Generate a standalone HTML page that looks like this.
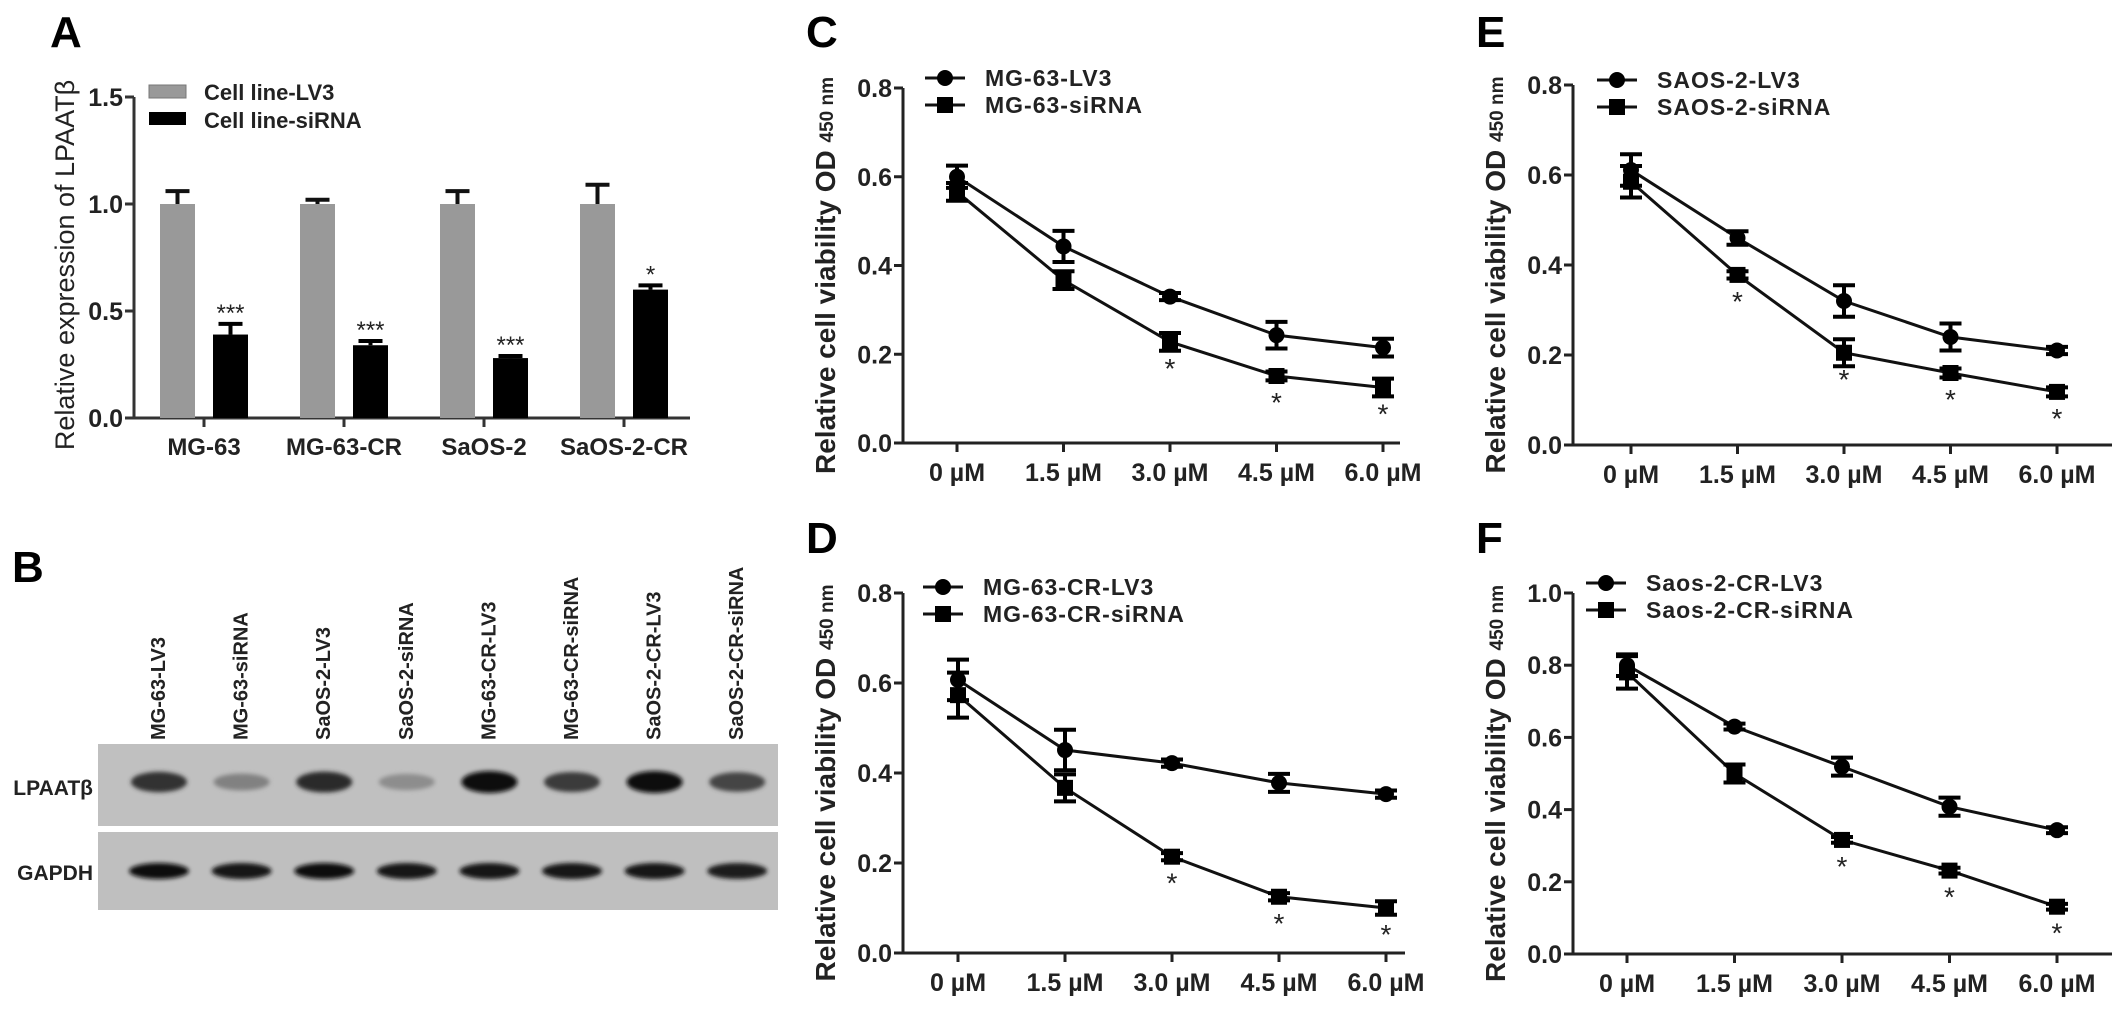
<!DOCTYPE html>
<html><head><meta charset="utf-8"><style>
html,body{margin:0;padding:0;background:#fff;}
svg{display:block;font-family:"Liberation Sans",Arial,sans-serif;}
.b{font-weight:bold;}
</style></head><body>
<svg id="fig" width="2126" height="1009" viewBox="0 0 2126 1009" xmlns="http://www.w3.org/2000/svg">
<defs>
<filter id="blur" x="-30%" y="-80%" width="160%" height="260%"><feGaussianBlur stdDeviation="2.2"/></filter>
</defs>
<g id="panelA"></g>
<g id="panelB"></g>
<g id="panelC"></g>
<g id="panelD"></g>
<g id="panelE"></g>
<g id="panelF"></g>
</svg>
<script>
// ---------- Panel A data ----------
const barCategories = ["MG-63", "MG-63-CR", "SaOS-2", "SaOS-2-CR"];
const barLV3 = [1.0, 1.0, 1.0, 1.0];
const barLV3Err = [0.06, 0.02, 0.06, 0.09];
const barSi = [0.39, 0.34, 0.28, 0.60];
const barSiErr = [0.05, 0.02, 0.01, 0.02];
const barSig = ["***", "***", "***", "*"];
const barTicks = [0.0, 0.5, 1.0, 1.5];

// ---------- Line chart data ----------
const doseLabels = ["0 µM", "1.5 µM", "3.0 µM", "4.5 µM", "6.0 µM"];
const cLV3 = [0.60, 0.443, 0.33, 0.243, 0.215];
const cLV3Err = [0.025, 0.035, 0.008, 0.03, 0.02];
const cSi = [0.566, 0.367, 0.228, 0.151, 0.125];
const cSiErr = [0.02, 0.02, 0.02, 0.01, 0.02];
const cSig = ["", "", "*", "*", "*"];
const dLV3 = [0.607, 0.451, 0.422, 0.378, 0.353];
const dLV3Err = [0.045, 0.045, 0.008, 0.02, 0.008];
const dSi = [0.573, 0.367, 0.214, 0.125, 0.10];
const dSiErr = [0.05, 0.03, 0.008, 0.008, 0.015];
const dSig = ["", "", "*", "*", "*"];
const eLV3 = [0.611, 0.46, 0.32, 0.24, 0.21];
const eLV3Err = [0.035, 0.015, 0.035, 0.03, 0.008];
const eSi = [0.585, 0.378, 0.205, 0.16, 0.118];
const eSiErr = [0.035, 0.008, 0.03, 0.01, 0.01];
const eSig = ["", "*", "*", "*", "*"];
const fLV3 = [0.80, 0.63, 0.519, 0.408, 0.343];
const fLV3Err = [0.03, 0.008, 0.025, 0.025, 0.008];
const fSi = [0.78, 0.50, 0.316, 0.231, 0.131];
const fSiErr = [0.045, 0.025, 0.008, 0.008, 0.008];
const fSig = ["", "", "*", "*", "*"];
const ticks08 = [0.0, 0.2, 0.4, 0.6, 0.8];
const ticks10 = [0.0, 0.2, 0.4, 0.6, 0.8, 1.0];

// ---------- Blot data ----------
const laneLabels = ["MG-63-LV3","MG-63-siRNA","SaOS-2-LV3","SaOS-2-siRNA","MG-63-CR-LV3","MG-63-CR-siRNA","SaOS-2-CR-LV3","SaOS-2-CR-siRNA"];
const lpaatIntensity = [0.8, 0.35, 0.85, 0.28, 1.0, 0.75, 1.0, 0.7];
const gapdhIntensity = [1.0, 0.95, 1.0, 0.95, 0.95, 0.97, 0.97, 0.92];

const NS = "http://www.w3.org/2000/svg";
function mk(parent, tag, attrs, text) {
  const el = document.createElementNS(NS, tag);
  for (const k in attrs) el.setAttribute(k, attrs[k]);
  if (text !== undefined) el.textContent = text;
  parent.appendChild(el);
  return el;
}

// ================= Panel A =================
(function () {
  const g = document.getElementById('panelA');
  const x0 = 134, yTop = 97, yBot = 418, maxV = 1.5, xEnd = 690;
  const y = v => yBot - v / maxV * (yBot - yTop);
  const gc = i => 204 + i * 140;
  let t = mk(g, 'text', {x: 50, y: 47, 'font-size': 44, class: 'b'}, 'A');
  
  
  let ax = mk(g, 'path', {d: `M${x0},${yTop} V${yBot} H${xEnd}`, stroke: '#333', 'stroke-width': 3, fill: 'none'});
  
  
  barTicks.forEach(v => {
    mk(g, 'line', {x1: x0 - 9, x2: x0, y1: y(v), y2: y(v), stroke: '#333', 'stroke-width': 3});
    const tl = mk(g, 'text', {x: x0 - 11, y: y(v) + 9, 'font-size': 25, 'text-anchor': 'end', class: 'b', fill: '#222'}, v.toFixed(1));
    
    
  });
  const yt = mk(g, 'text', {x: 0, y: 0, 'font-size': 27, 'text-anchor': 'middle', fill: '#222', transform: `translate(74,265) rotate(-90)`}, 'Relative expression of LPAATβ');
  
  
  barCategories.forEach((c, i) => {
    const cx = gc(i);
    mk(g, 'line', {x1: cx, x2: cx, y1: yBot, y2: yBot + 9, stroke: '#333', 'stroke-width': 3});
    const xl = mk(g, 'text', {x: cx, y: 455, 'font-size': 24, 'text-anchor': 'middle', class: 'b', fill: '#222'}, c);
    
    
    const l = cx - 44, w = 35;
    const b1 = mk(g, 'rect', {x: l, y: y(barLV3[i]), width: w, height: yBot - y(barLV3[i]), fill: '#999'});
    
    
    const e1 = y(barLV3[i] + barLV3Err[i]);
    mk(g, 'path', {d: `M${l + w / 2},${y(barLV3[i])} V${e1} M${l + w / 2 - 12},${e1} H${l + w / 2 + 12}`, stroke: '#111', 'stroke-width': 4, fill: 'none'});
    const l2 = cx + 9;
    const b2 = mk(g, 'rect', {x: l2, y: y(barSi[i]), width: w, height: yBot - y(barSi[i]), fill: '#000'});
    
    
    const e2 = y(barSi[i] + barSiErr[i]);
    mk(g, 'path', {d: `M${l2 + w / 2},${y(barSi[i])} V${e2} M${l2 + w / 2 - 12},${e2} H${l2 + w / 2 + 12}`, stroke: '#000', 'stroke-width': 4, fill: 'none'});
    const s = mk(g, 'text', {x: l2 + w / 2, y: e2 + 10, 'font-size': 24, 'text-anchor': 'middle', fill: '#222'}, barSig[i]);
    
    
    s.setAttribute('dy', '-2');
    s.setAttribute('y', e2 - 1);
  });
  const lg = mk(g, 'g', {});
  
  
  mk(lg, 'rect', {x: 149, y: 85, width: 37, height: 13, fill: '#999', stroke: '#777', 'stroke-width': 1});
  mk(lg, 'text', {x: 204, y: 100, 'font-size': 22, class: 'b', fill: '#222'}, 'Cell line-LV3');
  mk(lg, 'rect', {x: 149, y: 112, width: 37, height: 13, fill: '#000'});
  mk(lg, 'text', {x: 204, y: 128, 'font-size': 22, class: 'b', fill: '#222'}, 'Cell line-siRNA');
})();

// ================= Panel B =================
(function () {
  const g = document.getElementById('panelB');
  let t = mk(g, 'text', {x: 12, y: 582, 'font-size': 44, class: 'b'}, 'B');
  
  
  const lx = i => 157 + i * 82.6;
  laneLabels.forEach((l, i) => {
    const tt = mk(g, 'text', {x: 0, y: 0, 'font-size': 20, class: 'b', fill: '#222', transform: `translate(${lx(i) + 8},740) rotate(-90)`}, l);
    
    
  });
  const s1 = mk(g, 'rect', {x: 98, y: 744, width: 680, height: 82, fill: '#c0c0c0'});
  
  
  const s2 = mk(g, 'rect', {x: 98, y: 832, width: 680, height: 78, fill: '#bfbfbf'});
  
  
  lpaatIntensity.forEach((v, i) => {
    const c = Math.round(190 - v * 175);
    const e = mk(g, 'ellipse', {cx: lx(i) + 2, cy: 782, rx: 28, ry: 7 + v * 4, fill: `rgb(${c},${c},${c})`, filter: 'url(#blur)'});
    
    
  });
  gapdhIntensity.forEach((v, i) => {
    const c = Math.round(190 - v * 175);
    const e = mk(g, 'ellipse', {cx: lx(i) + 2, cy: 871, rx: 30, ry: 8, fill: `rgb(${c},${c},${c})`, filter: 'url(#blur)'});
    
    
  });
  let l1 = mk(g, 'text', {x: 93, y: 795, 'font-size': 21, class: 'b', 'text-anchor': 'end', fill: '#222'}, 'LPAATβ');
  
  
  let l2 = mk(g, 'text', {x: 93, y: 880, 'font-size': 21, class: 'b', 'text-anchor': 'end', fill: '#222'}, 'GAPDH');
  
  
})();

// ================= Line charts =================
function lineChart(id, cfg) {
  const g = document.getElementById(id);
  const {letter, lx, ly, x0, yTop, yBot, maxV, tickVals, xStart, xStep, xEnd, lv3, lv3e, si, sie, sig, leg1, leg2, legY, legX} = cfg;
  const y = v => yBot - v / maxV * (yBot - yTop);
  const x = i => xStart + i * xStep;
  let t = mk(g, 'text', {x: lx, y: ly, 'font-size': 44, class: 'b'}, letter);
  
  
  let ax = mk(g, 'path', {d: `M${x0},${yTop} V${yBot} H${xEnd}`, stroke: '#222', 'stroke-width': 3, fill: 'none'});
  
  
  tickVals.forEach(v => {
    mk(g, 'line', {x1: x0 - 9, x2: x0, y1: y(v), y2: y(v), stroke: '#222', 'stroke-width': 3});
    const tl = mk(g, 'text', {x: x0 - 11, y: y(v) + 9, 'font-size': 25, 'text-anchor': 'end', class: 'b', fill: '#222'}, v.toFixed(1));
    
    
  });
  doseLabels.forEach((d, i) => {
    mk(g, 'line', {x1: x(i), x2: x(i), y1: yBot, y2: yBot + 9, stroke: '#222', 'stroke-width': 3});
    const xl = mk(g, 'text', {x: x(i), y: yBot + 38, 'font-size': 25, 'text-anchor': 'middle', class: 'b', fill: '#222'}, d);
    
    
  });
  const yt = mk(g, 'text', {x: 0, y: 0, 'font-size': 28, 'text-anchor': 'middle', class: 'b', fill: '#222', transform: `translate(${x0 - 68},${(yTop + yBot) / 2 + 10}) rotate(-90)`});
  
  
  mk(yt, 'tspan', {}, 'Relative cell viability OD ');
  mk(yt, 'tspan', {'font-size': 19, dy: -2}, '450 nm');
  function series(vals, errs, shape, name) {
    const sg = mk(g, 'g', {});
    
    
    let d = '';
    vals.forEach((v, i) => { d += (i ? 'L' : 'M') + x(i) + ',' + y(v); });
    mk(sg, 'path', {d, stroke: '#111', 'stroke-width': 3, fill: 'none'});
    vals.forEach((v, i) => {
      const e1 = y(v + errs[i]), e2 = y(v - errs[i]);
      mk(sg, 'path', {d: `M${x(i)},${e1} V${e2} M${x(i) - 11},${e1} H${x(i) + 11} M${x(i) - 11},${e2} H${x(i) + 11}`, stroke: '#000', 'stroke-width': 4, fill: 'none'});
      let m;
      if (shape === 'circle') m = mk(sg, 'circle', {cx: x(i), cy: y(v), r: 8, fill: '#000'});
      else m = mk(sg, 'rect', {x: x(i) - 8, y: y(v) - 8, width: 16, height: 16, fill: '#000'});
      
      
    });
  }
  series(lv3, lv3e, 'circle', 'series-lv3');
  series(si, sie, 'square', 'series-sirna');
  sig.forEach((s, i) => {
    if (!s) return;
    const st = mk(g, 'text', {x: x(i), y: y(si[i]) + 36, 'font-size': 28, 'text-anchor': 'middle', fill: '#222'}, s);
    
    
  });
  const lg = mk(g, 'g', {});
  
  
  mk(lg, 'line', {x1: legX, x2: legX + 40, y1: legY, y2: legY, stroke: '#111', 'stroke-width': 3});
  mk(lg, 'circle', {cx: legX + 20, cy: legY, r: 8, fill: '#000'});
  mk(lg, 'text', {x: legX + 60, y: legY + 8, 'font-size': 23, class: 'b', fill: '#222', 'letter-spacing': 1}, leg1);
  mk(lg, 'line', {x1: legX, x2: legX + 40, y1: legY + 27, y2: legY + 27, stroke: '#111', 'stroke-width': 3});
  mk(lg, 'rect', {x: legX + 12, y: legY + 19, width: 16, height: 16, fill: '#000'});
  mk(lg, 'text', {x: legX + 60, y: legY + 35, 'font-size': 23, class: 'b', fill: '#222', 'letter-spacing': 1}, leg2);
}

lineChart('panelC', {letter: 'C', lx: 806, ly: 47, x0: 903, yTop: 88, yBot: 443, maxV: 0.8, tickVals: ticks08, xStart: 957, xStep: 106.5, xEnd: 1400,
  lv3: cLV3, lv3e: cLV3Err, si: cSi, sie: cSiErr, sig: cSig, leg1: 'MG-63-LV3', leg2: 'MG-63-siRNA', legY: 78, legX: 925});
lineChart('panelD', {letter: 'D', lx: 806, ly: 553, x0: 903, yTop: 593, yBot: 953, maxV: 0.8, tickVals: ticks08, xStart: 958, xStep: 107, xEnd: 1405,
  lv3: dLV3, lv3e: dLV3Err, si: dSi, sie: dSiErr, sig: dSig, leg1: 'MG-63-CR-LV3', leg2: 'MG-63-CR-siRNA', legY: 587, legX: 923});
lineChart('panelE', {letter: 'E', lx: 1476, ly: 47, x0: 1573, yTop: 85, yBot: 445, maxV: 0.8, tickVals: ticks08, xStart: 1631, xStep: 106.5, xEnd: 2112,
  lv3: eLV3, lv3e: eLV3Err, si: eSi, sie: eSiErr, sig: eSig, leg1: 'SAOS-2-LV3', leg2: 'SAOS-2-siRNA', legY: 80, legX: 1597});
lineChart('panelF', {letter: 'F', lx: 1476, ly: 553, x0: 1573, yTop: 593, yBot: 954, maxV: 1.0, tickVals: ticks10, xStart: 1627, xStep: 107.5, xEnd: 2112,
  lv3: fLV3, lv3e: fLV3Err, si: fSi, sie: fSiErr, sig: fSig, leg1: 'Saos-2-CR-LV3', leg2: 'Saos-2-CR-siRNA', legY: 583, legX: 1586});
</script>
</body></html>
